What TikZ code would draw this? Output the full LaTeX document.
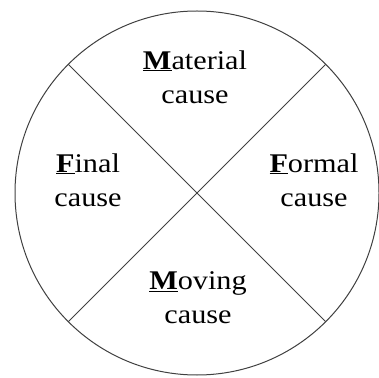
\documentclass[tikz,border=0pt]{standalone}
\usepackage{fontspec}
\setmainfont{Liberation Serif}[FakeStretch=1.12]
\newcommand{\keyletter}[1]{\underline{\textbf{#1}}}

\begin{document}
\begin{tikzpicture}[x=1pt,y=1pt]
\tikzset{rim/.style={line width=1pt, black!75},
  cause/.style={align=center, inner sep=0pt, font=\fontsize{27}{34}\selectfont}}
\useasboundingbox (0,0) rectangle (379,377);
%the wheel and its two spokes
\coordinate (c) at (197,184);
\path (c) ++(45:182) coordinate (ne);
\path (c) ++(135:182) coordinate (nw);
\path (c) ++(225:182) coordinate (sw);
\path (c) ++(315:182) coordinate (se);
\draw[rim] (c) circle (182);
\draw[rim] (ne) -- (sw);
\draw[rim] (nw) -- (se);
%the four causes
\node[cause] (material) at (195,300) {\keyletter{M}aterial\\cause};
\node[cause] (final) at (88,197) {\keyletter{F}inal\\cause};
\node[cause] (formal) at (314,197) {\keyletter{F}ormal\\cause};
\node[cause] (moving) at (198,79) {\keyletter{M}oving\\cause};
\end{tikzpicture}
\end{document}
